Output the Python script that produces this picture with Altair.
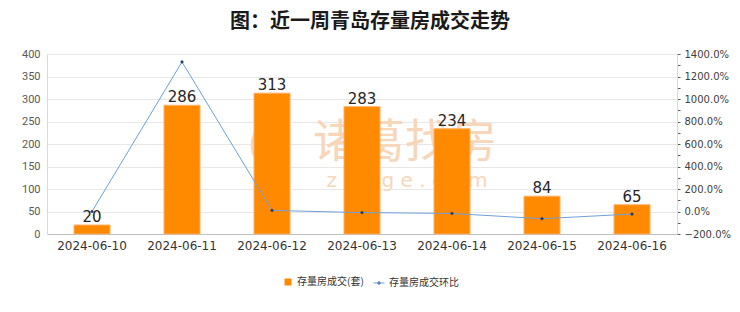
import altair as alt
import pandas as pd

dates = ["2024-06-10", "2024-06-11", "2024-06-12", "2024-06-13", "2024-06-14", "2024-06-15", "2024-06-16"]
volumes = [20, 286, 313, 283, 234, 84, 65]
ratios = [0.0, 13.30, 0.094, -0.096, -0.173, -0.641, -0.226]
bar_name = "存量房成交(套)"
line_name = "存量房成交环比"
title_text = "图：近一周青岛存量房成交走势"
left_ticks = [0, 50, 100, 150, 200, 250, 300, 350, 400]
right_ticks = [-2, -1, 0, 1, 2, 3, 4, 5, 6, 7, 8, 9, 10, 11, 12, 13, 14]

df = pd.DataFrame({"date": dates, "volume": volumes, "ratio": ratios,
                   "bar": [bar_name] * len(dates), "line": [line_name] * len(dates)})

FONT = "Noto Sans CJK SC"
WM = "#F8D6BA"

x = alt.X("date:N", title=None, sort=dates,
          scale=alt.Scale(paddingInner=0.6, paddingOuter=0.3),
          axis=alt.Axis(labelAngle=0, ticks=False, labelFontSize=12, labelColor="#333333",
                        domainColor="#BFBFBF", labelPadding=6, labelFont="DejaVu Sans"))

wm1 = alt.Chart(pd.DataFrame({"t": ["诸葛找房"]})).mark_text(
    fontSize=46, font=FONT, color=WM, baseline="middle", align="center"
).encode(text="t:N", x=alt.value(358), y=alt.value(89))
wm2 = alt.Chart(pd.DataFrame({"t": ["z  h  u  g  e  .  c  o  m"]})).mark_text(
    fontSize=20, font="DejaVu Sans", color=WM, baseline="middle", align="center"
).encode(text="t:N", x=alt.value(360), y=alt.value(127))
wm3 = alt.Chart(pd.DataFrame({"t": ["logo"]})).mark_point(
    shape="M0,-0.85C0.75,-0.5 0.8,0.4 0,0.8C-0.8,0.4 -0.75,-0.5 0,-0.85Z",
    size=3000, filled=False, stroke=WM, strokeWidth=7, opacity=1
).encode(x=alt.value(223), y=alt.value(92))

yl = alt.Y("volume:Q", title=None, scale=alt.Scale(domain=[0, 400], nice=False),
           axis=alt.Axis(orient="left", values=left_ticks, ticks=False, labelFontSize=11,
                         labelColor="#595959", labelPadding=7, domainColor="#D9D9D9",
                         gridColor="#E8E8E8", labelFont="Roboto", labelOverlap=False))

bars = alt.Chart(df).mark_bar(stroke="#FFB066", strokeWidth=1).encode(
    x=x, y=yl,
    color=alt.Color("bar:N", scale=alt.Scale(domain=[bar_name], range=["#FF8A00"]),
                    legend=alt.Legend(orient="none", legendX=236, legendY=223, title=None,
                                      symbolType="square", symbolSize=49, labelFontSize=10,
                                      labelColor="#333333", labelFont=FONT, symbolStrokeWidth=0))
)
labels = alt.Chart(df).mark_text(dy=-3, baseline="alphabetic", fontSize=15, color="#262626",
                                 font="DejaVu Sans").encode(
    x=x, y=yl, text="volume:Q")

left = alt.layer(bars, labels)

yr = alt.Y("ratio:Q", title=None, scale=alt.Scale(domain=[-2, 14], nice=False),
           axis=alt.Axis(orient="right", values=right_ticks, grid=False, tickSize=3,
                         tickColor="#595959", labelFontSize=10, labelColor="#404040",
                         labelPadding=4, domainColor="#D9D9D9", labelOverlap=False,
                         labelFont="DejaVu Sans",
                         labelExpr="datum.value % 2 == 0 ? format(datum.value, '.1%') : ''"))

line = alt.Chart(df).mark_line(strokeWidth=1).encode(
    x=x, y=yr,
    stroke=alt.Stroke("line:N", scale=alt.Scale(domain=[line_name], range=["#6FA0D8"]),
                      legend=alt.Legend(orient="none", legendX=326, legendY=223, title=None,
                                        symbolType="M-1,0L1,0M0,-0.3L0.3,0L0,0.3L-0.3,0Z",
                                        symbolSize=121, symbolFillColor="#1F3864",
                                        symbolStrokeWidth=1, labelFontSize=10,
                                        labelColor="#333333", labelFont=FONT))
)
points = alt.Chart(df).mark_point(filled=True, size=14, color="#1F3864", opacity=1, shape="diamond").encode(
    x=x, y=yr)

right = alt.layer(line, points)

chart = alt.layer(wm3, wm1, wm2, left, right).resolve_scale(y="independent").properties(
    width=630, height=180,
    padding={"left": 47, "top": 54, "right": 63, "bottom": 78},
    autosize=alt.AutoSizeParams(type="none"),
    title=alt.Title(title_text, fontSize=20, font=FONT, fontWeight="bold", color="#1A1A1A",
                    anchor="middle", offset=16, dx=8),
    background="white",
).configure_view(stroke=None)

chart.save("out.html", embed_options={"renderer": "svg", "actions": False})
